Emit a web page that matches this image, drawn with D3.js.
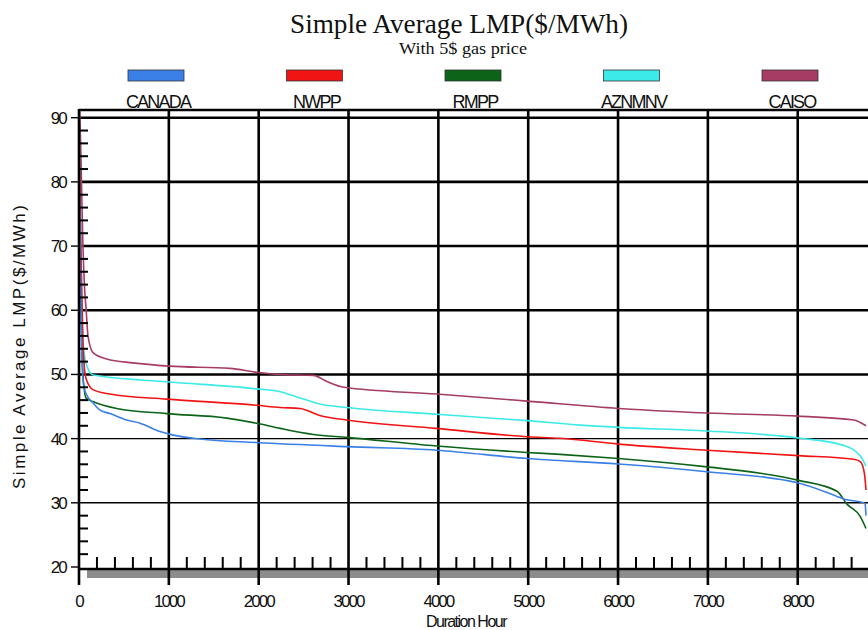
<!DOCTYPE html>
<html>
<head>
<meta charset="utf-8">
<script src="https://cdn.jsdelivr.net/npm/d3@7"></script>
<style>
  body { margin: 0; background: #fff; }
  text { fill: #111; }
</style>
</head>
<body>
<div class="svg-container"></div>
<script>
// series names and colours (legend order)
const seriesNames = ['CANADA', 'NWPP', 'RMPP', 'AZNMNV', 'CAISO'];
const seriesColours = ['#3a80e6', '#f01414', '#0d6418', '#3ceaea', '#a63c64'];

// price duration curves, [hour, $/MWh]
const canada = [[0, 86], [20, 62], [40, 50], [60, 47.8], [86, 46.8], [160, 45.5], [234, 44.45], [345, 43.9], [531, 42.9],
  [680, 42.4], [902, 41.1], [1050, 40.55], [1347, 39.95], [1980, 39.4], [2980, 38.75], [3980, 38.2], [4985, 36.9],
  [6006, 36.05], [6990, 34.85], [8010, 33.1], [8437, 31.0], [8510, 30.6], [8734, 30.0], [8750, 29.8], [8760, 28]];
const nwpp = [[0, 89], [20, 70], [40, 57], [60, 51], [80, 49.3], [160, 47.6], [345, 46.95], [976, 46.15], [1978, 45.2],
  [2240, 44.85], [2460, 44.7], [2680, 43.6], [2980, 42.9], [3980, 41.6], [4985, 40.3], [5356, 40.05], [6006, 39.15],
  [6990, 38.2], [8010, 37.35], [8623, 36.8], [8697, 36.4], [8742, 34.6], [8760, 32.0]];
const rmpp = [[0, 88], [20, 65], [40, 51], [60, 47.5], [80, 46.3], [160, 45.75], [420, 44.7], [976, 43.9], [1644, 43.2],
  [1978, 42.4], [2240, 41.6], [2610, 40.65], [2980, 40.2], [3980, 38.85], [4985, 37.85], [5356, 37.55], [6006, 36.9],
  [6990, 35.6], [7584, 34.6], [8010, 33.5], [8437, 31.8], [8548, 29.8], [8697, 27.85], [8760, 26.0]];
const aznmnv = [[0, 91], [15, 75], [30, 62], [50, 54], [90, 51.2], [160, 49.9], [976, 48.85], [1978, 47.75], [2240, 47.3],
  [2424, 46.5], [2680, 45.4], [2980, 44.85], [3980, 43.8], [4985, 42.8], [5580, 42.1], [6006, 41.75], [6990, 41.2],
  [8010, 40.1], [8510, 38.95], [8697, 37.3], [8760, 35.7]];
const caiso = [[0, 95], [20, 85], [40, 72], [60, 64], [80, 60], [100, 56], [156, 53.4], [308, 52.4], [600, 51.8],
  [1000, 51.3], [1680, 50.95], [1980, 50.35], [2250, 50.0], [2610, 49.85], [2760, 48.9], [2950, 48.0], [3980, 46.95],
  [4985, 45.85], [6006, 44.7], [6990, 44.0], [8010, 43.5], [8623, 42.9], [8760, 42.0]];
const seriesData = [canada, nwpp, rmpp, aznmnv, caiso];

// axes
const yTicks = [20, 30, 40, 50, 60, 70, 80, 90];
const yThickGrid = [50, 60, 70, 80, 90];
const yThinGrid = [30, 40];
const xTicks = [0, 1000, 2000, 3000, 4000, 5000, 6000, 7000, 8000];

const width = 868;
const height = 630;
const plot = { left: 79, right: 868, top: 110, bottom: 569 };

const x = d3.scaleLinear().domain([0, 8760]).range([plot.left, 866]);
const y = d3.scaleLinear().domain([20, 91.2]).range([567, plot.top]);

const svg = d3.select('.svg-container')
  .append('svg')
  .attr('width', width)
  .attr('height', height)
  .style('font-family', '"Liberation Sans", Arial, sans-serif');

// titles
svg.append('text')
  .attr('x', 459).attr('y', 33)
  .attr('text-anchor', 'middle')
  .style('font-family', '"Liberation Serif", "Times New Roman", serif')
  .style('font-size', '27px')
  .attr('textLength', 338)
  .attr('lengthAdjust', 'spacingAndGlyphs')
  .text('Simple Average LMP($/MWh)');

svg.append('text')
  .attr('x', 463).attr('y', 54)
  .attr('text-anchor', 'middle')
  .style('font-family', '"Liberation Serif", "Times New Roman", serif')
  .style('font-size', '17px')
  .attr('textLength', 128)
  .attr('lengthAdjust', 'spacingAndGlyphs')
  .text('With 5$ gas price');

// legend
const legendX = d3.scalePoint().domain(seriesNames).range([156, 790]);
const legend = svg.append('g')
  .selectAll('g')
  .data(seriesNames)
  .enter()
  .append('g')
  .attr('transform', (d) => `translate(${legendX(d)},0)`);

legend.append('rect')
  .attr('x', -28).attr('y', 70)
  .attr('width', 56).attr('height', 11)
  .attr('fill', (d, i) => seriesColours[i])
  .attr('stroke', '#333')
  .attr('stroke-width', 0.8);

legend.append('text')
  .attr('x', 2).attr('y', 108)
  .attr('text-anchor', 'middle')
  .style('font-size', '18px')
  .style('letter-spacing', '-1.8px')
  .text((d) => d);

// gray bar under the x axis
svg.append('rect')
  .attr('x', 87).attr('y', 570)
  .attr('width', width - 87).attr('height', 8)
  .attr('fill', '#8c8c8c');

// horizontal grid
svg.append('g')
  .selectAll('line')
  .data(yThickGrid)
  .enter()
  .append('line')
  .attr('x1', plot.left).attr('x2', plot.right)
  .attr('y1', (d) => y(d)).attr('y2', (d) => y(d))
  .attr('stroke', '#000').attr('stroke-width', 2.6);

svg.append('g')
  .selectAll('line')
  .data(yThinGrid)
  .enter()
  .append('line')
  .attr('x1', plot.left).attr('x2', plot.right)
  .attr('y1', (d) => y(d)).attr('y2', (d) => y(d))
  .attr('stroke', '#000').attr('stroke-width', 1.4);

// top border
svg.append('line')
  .attr('x1', plot.left).attr('x2', plot.right)
  .attr('y1', plot.top).attr('y2', plot.top)
  .attr('stroke', '#000').attr('stroke-width', 2.6);

// vertical grid (runs below the axis line as the tick)
svg.append('g')
  .selectAll('line')
  .data(xTicks.slice(1))
  .enter()
  .append('line')
  .attr('x1', (d) => x(d)).attr('x2', (d) => x(d))
  .attr('y1', plot.top).attr('y2', 585)
  .attr('stroke', '#000').attr('stroke-width', 2.6);

// curves
const line = d3.line()
  .x((d) => x(d[0]))
  .y((d) => y(d[1]))
  .curve(d3.curveMonotoneX);

svg.append('clipPath')
  .attr('id', 'plot-clip')
  .append('rect')
  .attr('x', plot.left).attr('y', plot.top)
  .attr('width', plot.right - plot.left).attr('height', plot.bottom - plot.top);

svg.append('g')
  .attr('clip-path', 'url(#plot-clip)')
  .selectAll('path')
  .data(seriesData.slice().reverse())
  .enter()
  .append('path')
  .attr('fill', 'none')
  .attr('stroke', (d, i) => seriesColours[seriesData.length - 1 - i])
  .attr('stroke-width', 1.6)
  .attr('d', line);

// x axis: main line, minor ticks pointing up
svg.append('line')
  .attr('x1', plot.left).attr('x2', plot.right)
  .attr('y1', plot.bottom).attr('y2', plot.bottom)
  .attr('stroke', '#000').attr('stroke-width', 2.6);

const xMinor = d3.range(200, 8760, 200).filter((h) => h % 1000 !== 0);
svg.append('g')
  .selectAll('line')
  .data(xMinor)
  .enter()
  .append('line')
  .attr('x1', (d) => x(d)).attr('x2', (d) => x(d))
  .attr('y1', plot.bottom - 12).attr('y2', plot.bottom)
  .attr('stroke', '#000').attr('stroke-width', 2);

svg.append('g')
  .selectAll('text')
  .data(xTicks)
  .enter()
  .append('text')
  .attr('x', (d) => x(d))
  .attr('y', 607)
  .attr('text-anchor', 'middle')
  .style('font-size', '17px')
  .style('letter-spacing', '-2px')
  .text((d) => d);

svg.append('text')
  .attr('x', 466).attr('y', 627)
  .attr('text-anchor', 'middle')
  .style('font-size', '16px')
  .style('letter-spacing', '-1.5px')
  .text('Duration Hour');

// y axis: main line, outward major ticks, inward minor ticks
svg.append('line')
  .attr('x1', plot.left).attr('x2', plot.left)
  .attr('y1', plot.top - 1).attr('y2', 585)
  .attr('stroke', '#000').attr('stroke-width', 2.6);

svg.append('g')
  .selectAll('line')
  .data(yTicks)
  .enter()
  .append('line')
  .attr('x1', 71).attr('x2', plot.left)
  .attr('y1', (d) => y(d)).attr('y2', (d) => y(d))
  .attr('stroke', '#000').attr('stroke-width', 1.4);

const yMinor = d3.range(22, 90, 2).filter((v) => v % 10 !== 0);
svg.append('g')
  .selectAll('line')
  .data(yMinor)
  .enter()
  .append('line')
  .attr('x1', plot.left).attr('x2', plot.left + 9)
  .attr('y1', (d) => y(d)).attr('y2', (d) => y(d))
  .attr('stroke', '#000').attr('stroke-width', 2);

svg.append('g')
  .selectAll('text')
  .data(yTicks)
  .enter()
  .append('text')
  .attr('x', 66)
  .attr('y', (d) => y(d) + 6)
  .attr('text-anchor', 'end')
  .style('font-size', '17px')
  .style('letter-spacing', '-1.8px')
  .text((d) => d);

svg.append('text')
  .attr('transform', 'translate(25,347) rotate(-90)')
  .attr('text-anchor', 'middle')
  .style('font-size', '17px')
  .attr('textLength', 284)
  .attr('lengthAdjust', 'spacing')
  .text('Simple Average LMP($/MWh)');
</script>
</body>
</html>
